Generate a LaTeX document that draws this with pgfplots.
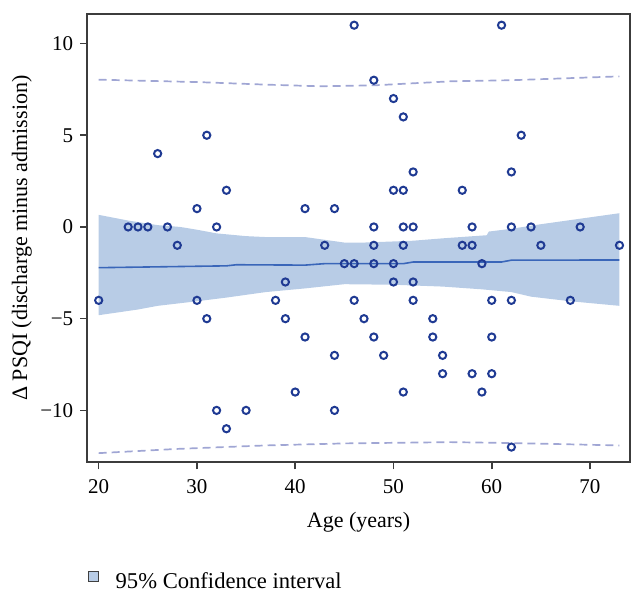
\documentclass[border=0pt]{standalone}
\usepackage{pgfplots}
\pgfplotsset{compat=1.18}
\usepackage{fontspec}
\setmainfont{Liberation Serif}
\definecolor{mk}{HTML}{1F3A93}
\definecolor{fitline}{HTML}{3A66B9}
\definecolor{band}{HTML}{B8CCE6}
\definecolor{predl}{HTML}{A0A6D4}
\definecolor{frame}{HTML}{3C3C3C}
\begin{document}
\begin{tikzpicture}
\useasboundingbox (-43.65pt,-64.35pt) rectangle (278.35pt,231.15pt);
\begin{axis}[
  scale only axis,
  width=271.2pt, height=224.15pt,
  xmin=18.84, xmax=74.04,
  ymin=-12.83, ymax=11.61,
  xtick={20,30,40,50,60,70},
  xticklabels={20,30,40,50,60,70},
  ytick={-10,-5,0,5,10},
  yticklabels={−10,−5,0,5,10},
  xtick pos=left, ytick pos=left,
  tick align=outside,
  major tick length=3.5pt,
  tick style={draw=frame, line width=0.8pt},
  axis line style={draw=frame, line width=1pt},
  tick label style={font=\fontsize{10.5}{12}\selectfont},
  xticklabel style={yshift=-1.5pt},
  label style={font=\fontsize{11}{13}\selectfont},
  xlabel={Age (years)},
  ylabel={Δ PSQI (discharge minus admission)},
  xlabel style={at={(axis description cs:0.5,0)}, anchor=base, yshift=-32.4pt},
  ylabel style={at={(axis description cs:-0.1204,0.5)}, anchor=center, rotate=0},
  legend style={at={(axis description cs:0,0)}, anchor=west, xshift=0pt, yshift=-59.8pt,
     draw=none, fill=none, inner sep=0pt, font=\fontsize{11.3}{13}\selectfont,
     cells={anchor=west},
     /tikz/every odd column/.append style={column sep=6.5pt}},
]
\addplot[fill=band, draw=none,
  legend image code/.code={\draw[fill=band, draw=black!75, line width=0.5pt] (0pt,0pt) rectangle (5pt,5pt);}]
 coordinates {
 (20,0.66) (23,0.35) (26,0.1) (28.3,0.0) (30,-0.15) (32,-0.35) (35,-0.5) (37,-0.55)
 (41,-0.55) (45,-0.85) (47,-0.85) (52,-0.75) (55,-0.62) (59.5,-0.45) (59.7,-0.25)
 (62,-0.1) (65,0.15) (69,0.45) (73,0.75)
 (73,-4.3) (68,-4.05) (64,-3.8) (62,-3.55) (59,-3.4) (55,-3.25) (50,-3.15) (45,-3.12)
 (41,-3.35) (37,-3.55) (33,-3.85) (30,-4.05) (26,-4.3) (24,-4.5) (20,-4.81)
 };
\addlegendentry{95\% Confidence interval}
\addplot[forget plot, predl, line width=0.85pt, dash pattern=on 4pt off 2.5pt] coordinates {
 (20,8.03) (30,7.9) (37,7.76) (42.5,7.67) (48,7.72) (55.8,7.94) (62,8.0) (73,8.21)
};
\addplot[forget plot, predl, line width=0.85pt, dash pattern=on 4pt off 2.5pt] coordinates {
 (20,-12.33) (28,-12.1) (37,-11.91) (45,-11.8) (55.8,-11.73) (62,-11.78) (73,-11.91)
};
\addplot[forget plot, fitline, line width=0.8pt] coordinates {
 (20,-2.22) (33,-2.12) (34,-2.06) (41,-2.08) (43,-2.0) (51,-2.0) (52,-1.91) (61,-1.91) (62,-1.81) (73,-1.8)
};
\addplot[forget plot, only marks, mark=o, mark size=1.8pt, mk, line width=1pt] coordinates {
 (20,-4)
 (23,0) (24,0) (25,0) (26,4) (27,0) (28,-1)
 (30,1) (30,-4) (31,5) (31,-5) (32,0) (32,-10) (33,2) (33,-11) (35,-10)
 (38,-4) (39,-3) (39,-5) (40,-9) (41,1) (41,-6) (43,-1) (44,1) (44,-7) (44,-10) (45,-2)
 (46,11) (46,-2) (46,-4) (47,-5) (48,8) (48,0) (48,-1) (48,-2) (48,-6)
 (49,-7) (50,7) (50,2) (50,-2) (50,-3) (51,6) (51,2) (51,0) (51,-1) (51,-9)
 (52,3) (52,0) (52,-3) (52,-4) (54,-5) (54,-6) (55,-7) (55,-8)
 (57,2) (57,-1) (58,0) (58,-1) (58,-8) (59,-2) (59,-9) (60,-4) (60,-6) (60,-8)
 (61,11) (62,3) (62,0) (62,-4) (62,-12) (63,5) (64,0) (65,-1) (68,-4) (69,0) (73,-1)
};
\end{axis}
\end{tikzpicture}
\end{document}
